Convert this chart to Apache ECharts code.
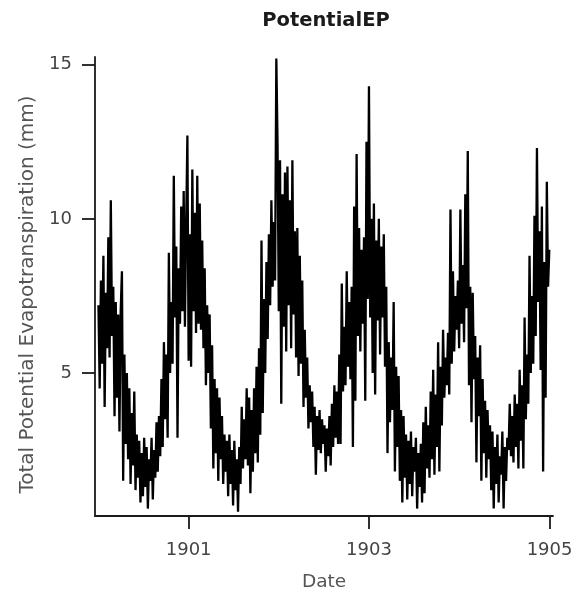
<!DOCTYPE html>
<html>
<head>
<meta charset="utf-8">
<script src="https://cdn.jsdelivr.net/npm/echarts@6/dist/echarts.min.js"></script>
<style>
  html, body { margin: 0; padding: 0; background: #fff; }
  #chart { width: 578px; height: 601px; }
</style>
</head>
<body>
<div id="chart"></div>
<script>
// readings taken every 5 days from 1 Jan of each year (mm)
var stepDays = 5;
var years = [1900, 1901, 1902, 1903, 1904];
var pet1900 = [7.2, 4.5, 8.0, 5.3, 8.8, 3.9, 7.6, 5.8, 9.4, 5.5, 10.6, 6.2, 7.8, 3.6, 7.3, 4.2, 6.9, 3.1, 7.0, 8.3,
    1.5, 5.6, 2.7, 5.0, 2.2, 4.5, 1.4, 3.7, 2.0, 4.4, 1.2, 3.0, 1.6, 2.8, 0.8, 2.4, 1.0, 2.9, 1.3, 2.6,
    0.6, 2.2, 1.5, 2.9, 0.9, 2.5, 1.6, 3.4, 1.8, 3.6, 2.3, 4.8, 2.6, 6.0, 3.5, 5.6, 2.9, 8.9, 5.0, 7.3,
    5.3, 11.4, 6.8, 9.1, 2.9, 8.4, 6.6, 10.4, 7.0, 10.9, 6.5, 9.8, 12.7];
var pet1901 = [5.4, 9.5, 5.2, 11.6, 7.0, 10.2, 6.3, 11.4, 6.6, 10.5, 6.4, 9.3, 5.8, 8.4, 4.6, 7.2, 5.0, 6.9, 3.2, 5.9,
    1.9, 4.8, 2.4, 4.5, 1.5, 4.2, 2.2, 3.6, 1.4, 3.0, 1.8, 2.8, 1.0, 3.0, 1.4, 2.5, 0.7, 2.8, 1.2, 2.2,
    0.5, 2.6, 1.4, 3.9, 1.9, 3.5, 2.2, 4.5, 2.0, 4.2, 1.1, 3.8, 1.8, 4.5, 2.4, 5.2, 2.1, 5.8, 3.0, 9.3,
    3.7, 7.4, 5.0, 8.6, 6.1, 9.5, 7.2, 10.6, 7.8, 9.9, 8.0, 15.2, 12.4];
var pet1902 = [7.0, 11.9, 4.0, 10.8, 6.5, 11.5, 5.7, 11.7, 7.2, 10.6, 5.8, 11.9, 6.9, 9.6, 5.5, 9.7, 4.9, 8.8, 5.3, 8.0,
    3.9, 6.4, 4.2, 5.5, 3.2, 4.6, 3.4, 4.4, 2.6, 3.9, 1.7, 3.6, 2.5, 3.8, 2.4, 3.5, 2.7, 3.3, 1.8, 3.2,
    2.3, 3.6, 2.0, 4.0, 2.6, 4.6, 2.9, 4.4, 2.7, 5.6, 2.7, 7.9, 4.4, 6.5, 4.6, 8.3, 5.2, 7.3, 4.8, 7.8,
    2.6, 10.4, 4.1, 12.1, 6.2, 9.7, 5.7, 9.0, 6.6, 9.4, 4.1, 12.5, 7.4];
var pet1903 = [14.3, 6.8, 10.0, 5.0, 10.5, 4.3, 9.3, 6.7, 10.0, 5.6, 9.1, 6.8, 9.5, 5.2, 7.8, 2.4, 6.0, 3.4, 5.5, 3.8,
    7.3, 1.8, 5.2, 2.6, 4.9, 1.5, 3.8, 0.8, 3.6, 1.6, 3.0, 0.9, 2.8, 1.4, 3.1, 1.0, 2.6, 1.8, 2.9, 0.6,
    2.4, 1.3, 2.7, 0.8, 3.4, 1.1, 3.9, 1.9, 3.3, 1.6, 4.4, 2.2, 5.1, 1.7, 4.3, 2.6, 6.0, 1.8, 5.2, 3.3,
    6.4, 4.2, 5.5, 4.6, 6.3, 4.3, 10.3, 5.3, 8.3, 5.7, 7.5, 6.4, 8.0];
var pet1904 = [5.8, 10.3, 6.6, 8.5, 6.0, 10.8, 7.1, 12.2, 4.6, 7.8, 3.4, 7.6, 4.8, 6.2, 2.1, 5.5, 3.6, 5.9, 1.5, 4.8,
    2.4, 4.1, 1.6, 3.8, 2.2, 3.3, 1.2, 3.1, 0.6, 2.6, 1.4, 3.0, 0.8, 2.3, 1.7, 3.1, 0.6, 2.6, 1.5, 2.9,
    2.5, 4.0, 2.3, 3.6, 2.1, 4.3, 2.6, 4.0, 1.9, 5.1, 2.8, 4.6, 1.9, 6.8, 3.5, 5.6, 4.0, 8.8, 5.0, 7.5,
    5.3, 10.1, 6.2, 12.3, 7.3, 9.6, 5.1, 10.4, 1.8, 8.6, 4.2, 11.2, 7.8, 9.0];
var yearValues = [pet1900, pet1901, pet1902, pet1903, pet1904];
var xTickYears = [1901, 1903, 1905];
var yTicks = [5, 10, 15];

var DAY = 86400000;
var seriesData = [];
years.forEach(function (yr, i) {
    var start = Date.UTC(yr, 0, 1);
    yearValues[i].forEach(function (v, k) {
        seriesData.push([start + k * stepDays * DAY, v]);
    });
});
var xTickValues = xTickYears.map(function (yr) { return Date.UTC(yr, 0, 1); });

var myChart = echarts.init(document.getElementById('chart'));
var axisColor = '#1a1a1a';
var option = {
    animation: false,
    backgroundColor: '#fff',
    textStyle: { fontFamily: 'DejaVu Sans' },
    title: {
        text: 'PotentialEP',
        left: 321,
        textAlign: 'center',
        top: 6,
        textStyle: { fontFamily: 'DejaVu Sans', fontWeight: 'bold', fontSize: 19.5, color: '#1a1a1a' }
    },
    grid: { left: 95, right: 25, top: 57, bottom: 85, containLabel: false, outerBoundsMode: 'none' },
    xAxis: {
        // dates kept as timestamps on a plain value axis so the three year ticks can be placed exactly
        type: 'value',
        min: Date.UTC(1899, 11, 18),
        max: Date.UTC(1905, 0, 15),
        name: 'Date',
        nameLocation: 'middle',
        nameGap: 57,
        nameTextStyle: { fontSize: 18.5, color: '#555', fontFamily: 'DejaVu Sans' },
        axisLine: { show: true, lineStyle: { color: axisColor, width: 1.8 } },
        axisTick: { show: true, length: 13, lineStyle: { color: axisColor, width: 1.8 }, customValues: xTickValues },
        axisLabel: {
            margin: 25,
            fontSize: 18,
            color: '#444',
            customValues: xTickValues,
            formatter: function (v) { return String(new Date(v).getUTCFullYear()); }
        },
        splitLine: { show: false }
    },
    yAxis: {
        type: 'value',
        min: 0.36,
        max: 15.25,
        name: 'Total Potential Evapotranspiration (mm)',
        nameLocation: 'middle',
        nameGap: 56,
        // label sits a little below the middle of the axis in the original
        nameTextStyle: { fontSize: 20, color: '#555', fontFamily: 'DejaVu Sans', padding: [0, 16, 0, 0] },
        axisLine: { show: true, lineStyle: { color: axisColor, width: 1.8 } },
        axisTick: { show: true, length: 13, lineStyle: { color: axisColor, width: 1.8 }, customValues: yTicks },
        axisLabel: { margin: 23, fontSize: 18, color: '#444', customValues: yTicks },
        splitLine: { show: false }
    },
    series: [{
        name: 'PotentialEP',
        type: 'line',
        data: seriesData,
        showSymbol: false,
        lineStyle: { color: '#000', width: 2.3 },
        itemStyle: { color: '#000' }
    }]
};
myChart.setOption(option);
</script>
</body>
</html>
